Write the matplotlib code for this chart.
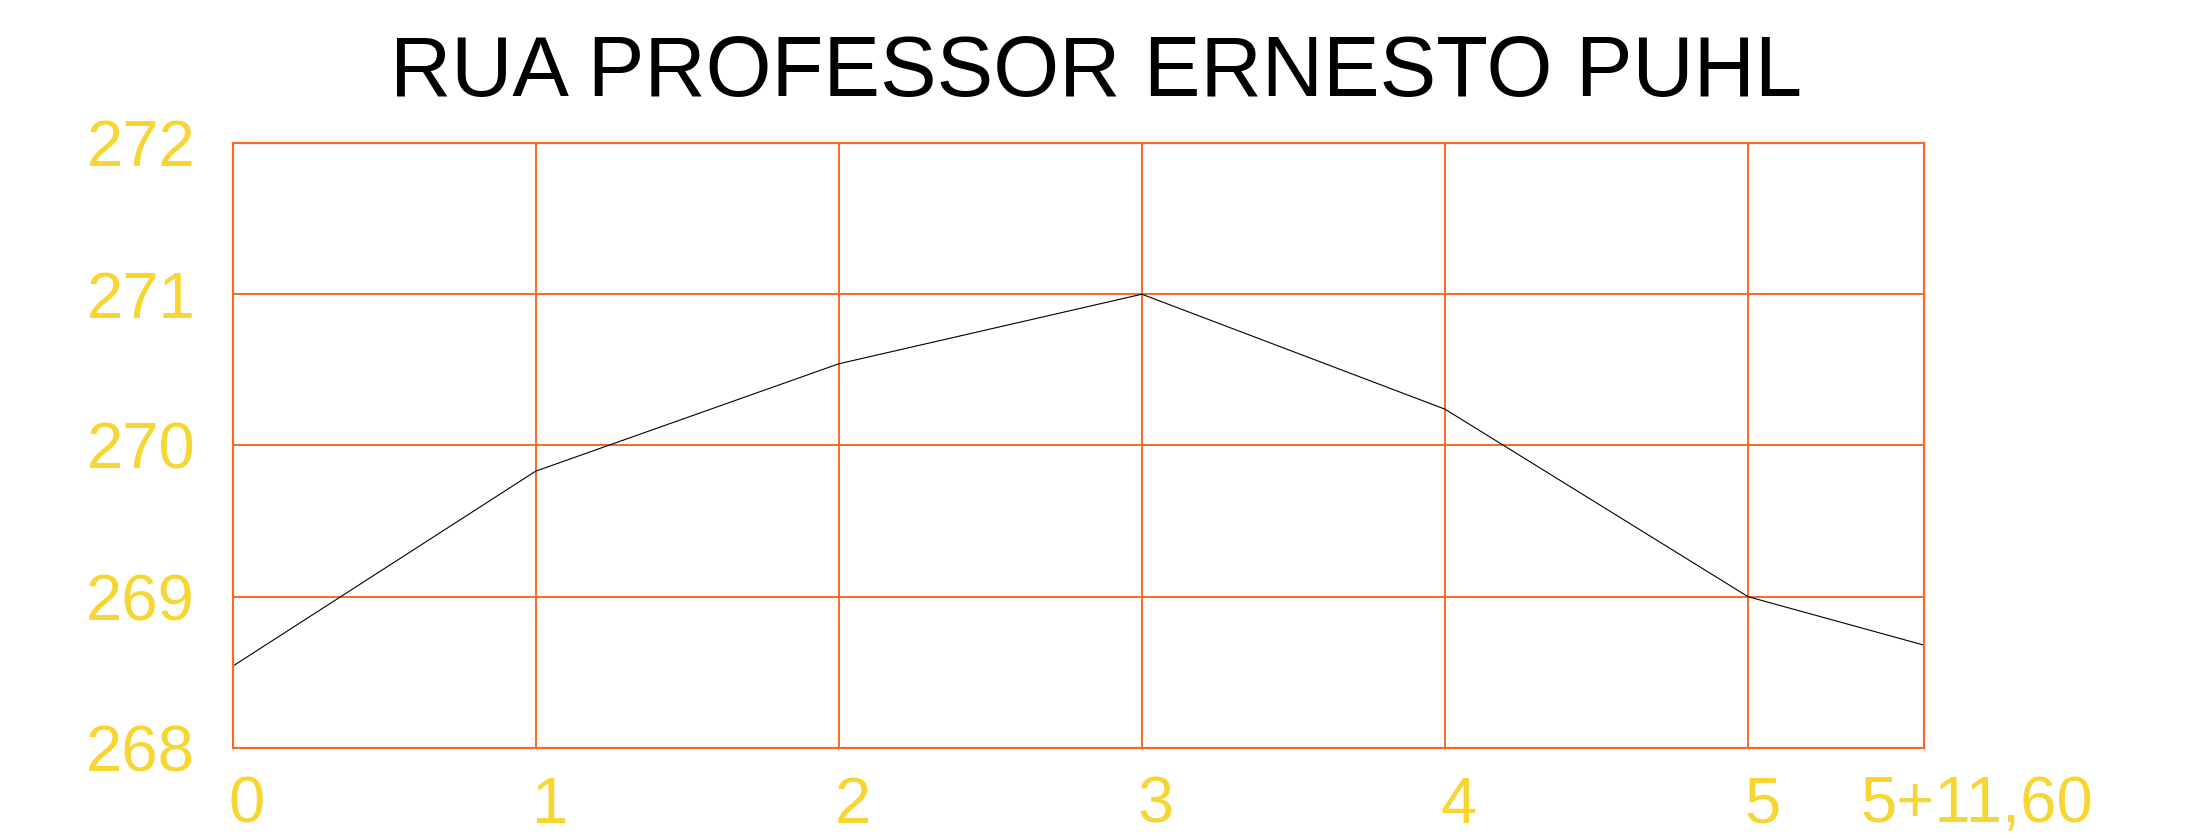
import matplotlib
matplotlib.use("Agg")
import matplotlib.pyplot as plt
import matplotlib.transforms as mtransforms

# estacas (20 m) e cotas do terreno
stations = [0, 1, 2, 3, 4, 5, 5.58]
elevations = [268.54, 269.83, 270.54, 271.0, 270.24, 269.0, 268.68]
x_labels = ["0", "1", "2", "3", "4", "5", "5+11,60"]
y_ticks = [268, 269, 270, 271, 272]
title = "RUA PROFESSOR ERNESTO PUHL"

orange = "#F26B2A"
yellow = "#F7D633"

plt.rcParams['font.family'] = ['Liberation Sans', 'DejaVu Sans']

fig = plt.figure(figsize=(21.96, 8.39), dpi=100)
ax = fig.add_axes([0.1059, 0.1085, 0.7702, 0.7211])

ax.plot(stations, elevations, color="black", lw=0.8)

ax.set_xlim(stations[0], stations[-1])
ax.set_ylim(y_ticks[0], y_ticks[-1])
ax.set_xticks(stations)
ax.set_xticklabels(x_labels)
ax.set_yticks(y_ticks)
ax.set_yticklabels([str(v) for v in y_ticks])

ax.grid(True, color=orange, lw=1.4)
for s in ax.spines.values():
	s.set_color(orange)
	s.set_linewidth(1.6)

ax.tick_params(axis="both", length=0, labelsize=47, labelcolor=yellow)
ax.tick_params(axis="y", pad=27)
ax.tick_params(axis="x", pad=20)

# os rotulos do desenho original ficam um pouco deslocados para a direita
for lab in ax.get_xticklabels():
	dx = 53 if "+" in lab.get_text() else 14
	off = mtransforms.ScaledTranslation(dx / 100, 0, fig.dpi_scale_trans)
	lab.set_transform(lab.get_transform() + off)

fig.text(0.499, 1 - 96 / 839, title, ha="center", va="baseline",
	fontsize=61, color="black")

fig.savefig("out.png", dpi=100)
